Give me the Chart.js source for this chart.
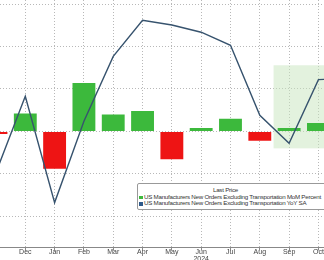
<!DOCTYPE html>
<html>
<head>
<meta charset="utf-8">
<script src="https://cdn.jsdelivr.net/npm/chart.js@4.4.0/dist/chart.umd.min.js"></script>
<style>
  html, body { margin: 0; padding: 0; background: #fff; }
  #wrap { position: relative; width: 324px; height: 260px; overflow: hidden; }
  #legend {
    position: absolute; left: 137px; top: 183px; width: 200px; height: 25px;
    border: 1px solid #999; border-radius: 2px; background: #fff;
    font-family: 'Liberation Sans', Arial, sans-serif; font-size: 6.2px; letter-spacing: -0.25px; color: #333;
    line-height: 6.7px; white-space: nowrap;
  }
  #legend .ttl { text-align: center; margin: 3px 0 0 -25px; }
  #legend .row { padding-left: 1px; }
  #legend .sq { display: inline-block; width: 3.5px; height: 3.5px; margin-right: 1.5px; vertical-align: -0.3px; }
</style>
</head>
<body>
<div id="wrap">
  <canvas id="c" width="324" height="260"></canvas>
  <div id="legend">
    <div class="ttl">Last Price</div>
    <div class="row"><span class="sq" style="background:#3cb93c"></span>US Manufacturers New Orders Excluding Transportation MoM Percent</div>
    <div class="row"><span class="sq" style="background:#2f5a8a"></span>US Manufacturers New Orders Excluding Transportation YoY SA</div>
  </div>
</div>
<script>
// 월 라벨 (Nov 2023 ~ Nov 2024)
const MONTHS = ['Nov', 'Dec', 'Jan', 'Feb', 'Mar', 'Apr', 'May', ['Jun', '2024'], 'Jul', 'Aug', 'Sep', 'Oct', 'Nov'];
// MoM % (막대)
const MOM = [-0.03, 0.21, -0.44, 0.57, 0.20, 0.24, -0.33, 0.04, 0.15, -0.11, 0.04, 0.10];
// YoY % (선)
const YOY = [-0.97, 0.83, -1.68, 0.24, 1.77, 2.62, 2.51, 2.34, 2.03, 0.38, -0.28, 1.22, 1.26];
// 강조 구간 (x 인덱스, y1 값)
const SHADE = { x0: 9.47, y0: -0.40, y1: 1.56 };

const GREEN = '#3cb93c', RED = '#ee1414', LINE = '#37536e', GRID = '#b8b8b8';

const shadePlugin = {
  id: 'shade',
  beforeDatasetsDraw(chart) {
    const { ctx, chartArea, scales: { x, y1 } } = chart;
    const left = x.getPixelForValue(SHADE.x0);
    const top = y1.getPixelForValue(SHADE.y1);
    const bottom = y1.getPixelForValue(SHADE.y0);
    ctx.save();
    ctx.fillStyle = 'rgba(200,230,190,0.5)';
    ctx.fillRect(left, top, chartArea.right - left, bottom - top);
    ctx.restore();
  }
};

new Chart(document.getElementById('c'), {
  type: 'bar',
  data: {
    datasets: [
      {
        type: 'line',
        data: YOY.map((v, i) => ({ x: i, y: v })),
        yAxisID: 'y1',
        borderColor: LINE,
        borderWidth: 1.4,
        pointRadius: 0,
        tension: 0,
        order: 0,
      },
      {
        type: 'bar',
        data: MOM.map((v, i) => ({ x: i, y: v })),
        yAxisID: 'y',
        backgroundColor: MOM.map(v => v >= 0 ? GREEN : RED),
        categoryPercentage: 1,
        barPercentage: 0.78,
        order: 1,
      },
    ],
  },
  options: {
    responsive: false,
    animation: false,
    layout: { padding: 0 },
    plugins: { legend: { display: false }, tooltip: { enabled: false } },
    scales: {
      x: {
        type: 'linear',
        offset: false,
        min: 0.137,
        max: 11.19,
        afterBuildTicks: s => { s.ticks = MONTHS.map((m, i) => ({ value: i })).filter(t => t.value >= s.min && t.value <= s.max); },
        afterFit: s => { s.height = 12.5; },
        grid: { color: GRID, tickLength: 3, tickColor: '#888', offset: false },
        border: { display: true, color: '#888', width: 1, dash: [1, 2] },
        ticks: {
          callback: v => MONTHS[v],
          color: '#444',
          font: { family: 'Liberation Sans', size: 7, lineHeight: 1.0 },
          padding: -2,
          maxRotation: 0,
          autoSkip: false,
        },
      },
      y: {
        min: -1.37,
        max: 1.55,
        afterBuildTicks: s => { s.ticks = [-1, -0.5, 0, 0.5, 1, 1.5].map(v => ({ value: v })); },
        afterFit: s => { s.width = 0; },
        ticks: { display: false },
        grid: { color: GRID, tickLength: 0, drawTicks: false },
        border: { display: false, dash: [1, 2] },
      },
      y1: {
        display: false,
        min: -2.74,
        max: 3.10,
      },
    },
  },
  plugins: [shadePlugin],
});
</script>
</body>
</html>
